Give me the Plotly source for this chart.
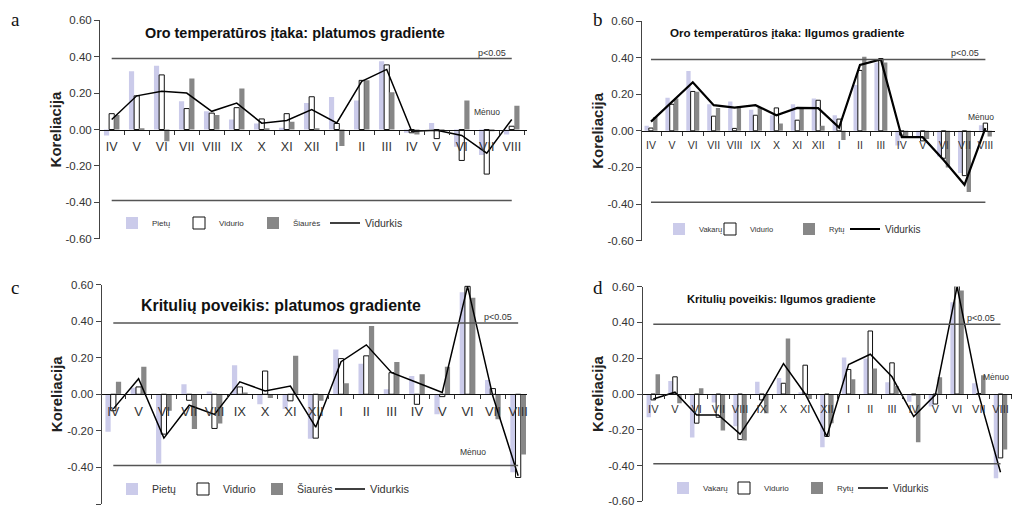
import plotly.graph_objects as go

# Month sequence (April of the previous year to August)
months = ["IV", "V", "VI", "VII", "VIII", "IX", "X", "XI", "XII",
          "I", "II", "III", "IV", "V", "VI", "VII", "VIII"]

# a: air temperature, latitudinal gradient
a_pietu = [-0.033, 0.32, 0.35, 0.155, 0.10, 0.055, 0.033, 0.01, 0.145,
           0.178, 0.16, 0.375, -0.018, 0.036, -0.095, -0.14, -0.027]
a_vidurio = [0.087, 0.185, 0.30, 0.115, 0.09, 0.12, 0.058, 0.087, 0.18,
             0.033, 0.27, 0.355, -0.018, -0.05, -0.17, -0.245, 0.018]
a_siaures = [0.08, 0.005, -0.065, 0.28, 0.08, 0.225, 0.005, 0.043, 0.005,
             -0.09, 0.27, 0.205, -0.027, -0.01, 0.16, -0.005, 0.13]
a_vidurkis = [0.055, 0.185, 0.21, 0.20, 0.10, 0.145, 0.035, 0.05, 0.11,
              0.036, 0.265, 0.33, -0.01, -0.004, -0.033, -0.13, 0.055]

# b: air temperature, longitudinal gradient
b_vakaru = [0.027, 0.18, 0.327, 0.145, 0.16, 0.115, 0.085, 0.145, 0.176,
            0.085, 0.25, 0.373, -0.08, -0.03, -0.14, -0.23, 0.031]
b_vidurio = [0.015, 0.145, 0.215, 0.08, 0.013, 0.085, 0.125, 0.058, 0.167,
             0.064, 0.33, 0.395, -0.024, -0.055, -0.15, -0.245, 0.042]
b_rytu = [0.076, 0.176, 0.213, 0.124, 0.136, 0.13, 0.04, 0.12, 0.027,
          -0.05, 0.405, 0.373, -0.04, -0.045, -0.20, -0.335, -0.031]
b_vidurkis = [0.05, 0.16, 0.265, 0.14, 0.127, 0.14, 0.085, 0.125, 0.124,
              0.018, 0.36, 0.39, -0.035, -0.035, -0.16, -0.295, 0.015]

# c: precipitation, latitudinal gradient
c_pietu = [-0.205, 0.036, -0.378, 0.055, 0.015, 0.158, -0.055, -0.08, -0.243,
           0.245, 0.167, 0.027, 0.10, -0.11, 0.558, 0.078, -0.427]
c_vidurio = [-0.09, 0.04, -0.218, -0.033, -0.187, 0.04, 0.127, -0.036, -0.24,
             0.195, 0.21, 0.118, -0.055, -0.013, 0.59, 0.031, -0.455]
c_siaures = [0.069, 0.15, -0.09, -0.19, -0.16, 0.005, -0.02, 0.21, -0.035,
             0.06, 0.373, 0.176, 0.11, 0.15, 0.527, -0.136, -0.33]
c_vidurkis = [-0.08, 0.085, -0.24, -0.06, -0.11, 0.068, 0.018, 0.045, -0.18,
              0.178, 0.27, 0.118, 0.064, 0.01, 0.59, -0.01, -0.445]

# d: precipitation, longitudinal gradient
d_vakaru = [-0.13, 0.072, -0.243, -0.048, -0.18, 0.068, 0.09, 0.01, -0.298,
            0.204, 0.198, 0.065, -0.043, -0.07, 0.513, 0.06, -0.47]
d_vidurio = [-0.033, 0.096, -0.163, -0.13, -0.255, -0.033, 0.06, 0.161, -0.237,
             0.137, 0.352, 0.174, -0.005, -0.056, 0.605, 0.002, -0.357]
d_rytu = [0.11, -0.052, 0.032, -0.204, -0.26, -0.107, 0.31, -0.028, -0.163,
          0.083, 0.143, 0.044, -0.27, 0.093, 0.578, 0.105, -0.31]
d_vidurkis = [-0.028, 0.01, -0.117, -0.117, -0.224, -0.043, 0.17, 0.0, -0.237,
              0.165, 0.222, 0.096, -0.126, -0.005, 0.60, -0.005, -0.437]

y_ticks = [0.6, 0.4, 0.2, 0.0, -0.2, -0.4, -0.6]
SIG = 0.39  # p<0.05 significance level

W, H = 1012, 510
SANS = "Liberation Sans, Arial, sans-serif"
LAV, WHITE, GREY = "#cbcbea", "#ffffff", "#878787"


def px_x(p):
    return p / W


def px_y(p):
    return 1 - p / H


panels = [
    dict(key="", letter="a", letter_xy=(15, 20),
         title="Oro temperatūros įtaka: platumos gradiente",
         title_xy=(295, 33), title_size=14.4,
         names=["Pietų", "Vidurio", "Šiaurės"],
         series=[a_pietu, a_vidurio, a_siaures], mean=a_vidurkis,
         xpx=(100, 527), ypx=(20.3, 238.7), xr=(-0.468, 16.61),
         tick_size=12.5, menuo=(15.0, 0.096), line_w=1.5,
         legend_x=(112, 179, 253, 325), legend_y=223, legend_size=(8, 10.5)),
    dict(key="2", letter="b", letter_xy=(598, 20),
         title="Oro temperatūros įtaka: Ilgumos gradiente",
         title_xy=(787, 33), title_size=11.6,
         names=["Vakarų", "Vidurio", "Rytų"],
         series=[b_vakaru, b_vidurio, b_rytu], mean=b_vidurkis,
         xpx=(642, 995), ypx=(21, 240.6), xr=(-0.43, 16.46),
         tick_size=10.5, menuo=(15.8, 0.075), line_w=2.2,
         legend_x=(659, 710, 789, 845), legend_y=229, legend_size=(7.5, 10)),
    dict(key="3", letter="c", letter_xy=(15, 287),
         title="Kritulių poveikis: platumos gradiente",
         title_xy=(281, 305), title_size=15.9,
         names=["Pietų", "Vidurio", "Šiaurės"],
         series=[c_pietu, c_vidurio, c_siaures], mean=c_vidurkis,
         xpx=(101.7, 527), ypx=(284.5, 504), xr=(-0.458, 16.35),
         tick_size=13, menuo=(14.2, -0.315), line_w=1.5,
         legend_x=(112, 183, 257, 330), legend_y=489, legend_size=(10.5, 11)),
    dict(key="4", letter="d", letter_xy=(598, 287),
         title="Kritulių poveikis: Ilgumos gradiente",
         title_xy=(781, 299), title_size=11.1,
         names=["Vakarų", "Vidurio", "Rytų"],
         series=[d_vakaru, d_vidurio, d_rytu], mean=d_vidurkis,
         xpx=(642.7, 1012), ypx=(286.6, 501.4), xr=(-0.488, 16.53),
         tick_size=11, menuo=(15.8, 0.095), line_w=1.5,
         legend_x=(663, 724, 797, 853), legend_y=488, legend_size=(8, 10)),
]

x_idx = list(range(len(months)))
minor_vals = [i - 0.5 for i in range(len(months) + 1)]

fig = go.Figure()
layout = dict(width=W, height=H, margin=dict(l=0, r=0, t=0, b=0),
              paper_bgcolor="white", plot_bgcolor="white", showlegend=True,
              barmode="group", bargap=0.38, bargroupgap=0,
              shapes=[], annotations=[], font=dict(family=SANS, color="#222"))

legend_no = 0


def next_legend():
    global legend_no
    legend_no += 1
    return "legend" if legend_no == 1 else "legend%d" % legend_no


for p in panels:
    k = p["key"]
    xa, ya = "x" + k, "y" + k
    fills = [LAV, WHITE, GREY]
    leg_ids = []
    for name, vals, fill in zip(p["names"], p["series"], fills):
        leg = next_legend()
        leg_ids.append(leg)
        fig.add_trace(go.Bar(
            x=x_idx, y=vals, name=name, xaxis=xa, yaxis=ya, legend=leg,
            showlegend=True,
            marker=dict(color=fill,
                        line=dict(color="#111" if fill == WHITE else fill,
                                  width=1 if fill == WHITE else 0)),
        ))
    leg = next_legend()
    leg_ids.append(leg)
    fig.add_trace(go.Scatter(
        x=x_idx, y=p["mean"], mode="lines", name="Vidurkis",
        xaxis=xa, yaxis=ya, legend=leg, showlegend=True,
        line=dict(color="#000", width=p["line_w"]),
    ))

    for i, leg in enumerate(leg_ids):
        size = p["legend_size"][1] if i == 3 else p["legend_size"][0]
        layout[leg] = dict(
            orientation="h", x=px_x(p["legend_x"][i]), y=px_y(p["legend_y"]),
            xanchor="left", yanchor="middle", bgcolor="rgba(0,0,0,0)",
            borderwidth=0, itemwidth=30, visible=True,
            font=dict(family=SANS, size=size, color="#333"),
        )

    y_dom = [px_y(p["ypx"][1]), px_y(p["ypx"][0])]
    zero_pos = (y_dom[0] + y_dom[1]) / 2
    layout["xaxis" + k] = dict(
        domain=[px_x(p["xpx"][0]), px_x(p["xpx"][1])], range=list(p["xr"]),
        anchor="free", position=zero_pos,
        showline=True, linecolor="#111", linewidth=1,
        tickmode="array", tickvals=x_idx, ticktext=months, ticks="",
        ticklabelstandoff=5,
        tickfont=dict(family=SANS, size=p["tick_size"], color="#333"),
        minor=dict(tickmode="array", tickvals=minor_vals, ticks="outside",
                   ticklen=4, tickcolor="#333", tickwidth=1),
        showgrid=False, zeroline=False, automargin=False, fixedrange=True,
    )
    layout["yaxis" + k] = dict(
        domain=y_dom, range=[-0.6, 0.6], anchor=xa,
        tickmode="array", tickvals=y_ticks,
        ticktext=["%.2f" % v for v in y_ticks],
        ticks="outside", ticklen=5, tickcolor="#444",
        tickfont=dict(family=SANS, size=11.5, color="#333"),
        showline=True, linecolor="#444", linewidth=1,
        showgrid=False, zeroline=False, automargin=False, fixedrange=True,
        title=dict(text="<b>Koreliacija</b>", standoff=0,
                   font=dict(family=SANS, size=15, color="#222")),
    )

    for lvl in (SIG, -SIG):
        layout["shapes"].append(dict(
            type="line", xref=xa, yref=ya, x0=0, x1=len(months) - 1,
            y0=lvl, y1=lvl, line=dict(color="#555", width=1.5)))
    layout["annotations"] += [
        dict(text="p<0.05", xref=xa, yref=ya, x=len(months) - 1, y=SIG,
             xanchor="right", yanchor="bottom", showarrow=False,
             xshift=-4, yshift=-1,
             font=dict(family=SANS, size=9, color="#333")),
        dict(text="Mėnuo", xref=xa, yref=ya, x=p["menuo"][0], y=p["menuo"][1],
             xanchor="center", yanchor="middle", showarrow=False,
             font=dict(family=SANS, size=8.5, color="#333")),
        dict(text="<b>%s</b>" % p["title"], xref="paper", yref="paper",
             x=px_x(p["title_xy"][0]), y=px_y(p["title_xy"][1]),
             xanchor="center", yanchor="middle", showarrow=False,
             font=dict(family=SANS, size=p["title_size"], color="#111")),
        dict(text=p["letter"], xref="paper", yref="paper",
             x=px_x(p["letter_xy"][0]), y=px_y(p["letter_xy"][1]),
             xanchor="center", yanchor="middle", showarrow=False,
             font=dict(family="Liberation Serif, Times New Roman, serif",
                       size=19, color="#111")),
    ]

fig.update_layout(**layout)
fig.write_html("out.html")
